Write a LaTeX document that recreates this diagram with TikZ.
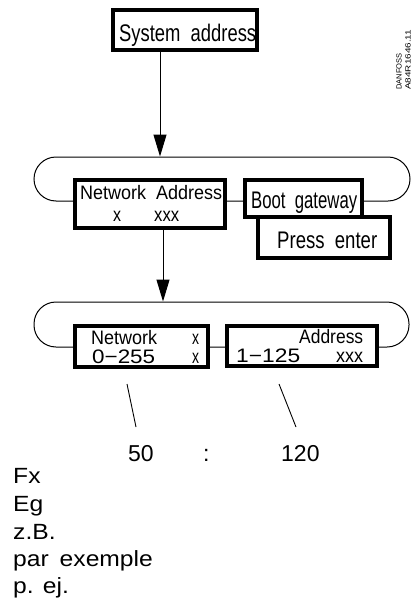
\documentclass[tikz,border=0pt]{standalone}
\usepackage{fontspec}
\usepackage{graphicx}
\setmainfont{Liberation Sans}
\usetikzlibrary{arrows.meta}
\newcommand\fitx[2]{\resizebox{#1}{\height}{#2}}
\newcommand\widen[1]{\scalebox{1.12}[1]{#1}}
\begin{document}
\begin{tikzpicture}[x=1pt,y=-1pt,
  box/.style={draw,line width=3.3pt,fill=white,inner sep=0pt,rectangle},
  loopbox/.style={draw,line width=1pt,rounded corners=22pt,inner sep=0pt,rectangle},
  txt/.style={inner sep=0pt,anchor=base west},
  big/.style={font=\fontsize{24}{24}\selectfont},
  mid/.style={font=\fontsize{19.5}{19.5}\selectfont},
  lst/.style={font=\fontsize{22}{22}\selectfont},
  conn/.style={line width=0.9pt},
  arr/.style={line width=1pt,-{Triangle[width=13pt,length=22pt]}},
  ]
\useasboundingbox (0,0) rectangle (411,605);
% loops
\node[loopbox,minimum width=376pt,minimum height=44pt] (l1) at (222,179) {};
\node[loopbox,minimum width=375pt,minimum height=45pt] (l2) at (221.5,324.5) {};
% boxes
\node[box,minimum width=144pt,minimum height=40pt] (sys) at (185,30) {};
\node[box,minimum width=150pt,minimum height=48pt] (na) at (150,204) {};
\node[box,minimum width=117pt,minimum height=37pt] (bg) at (303.5,198.5) {};
\node[box,minimum width=132pt,minimum height=41pt] (pe) at (324,237.5) {};
\node[box,minimum width=133pt,minimum height=41pt] (nw) at (141.5,346.5) {};
\node[box,minimum width=150pt,minimum height=40pt] (ad) at (302,346) {};
% box texts
\node[txt,big] (tsys) at (119,41) {\fitx{137pt}{System\ \ address}};
\node[txt,mid] (tna1) at (80,199) {\fitx{142pt}{Network\ \ Address}};
\node[txt,mid] (tna2) at (113,221) {\fitx{8pt}{x}};
\node[txt,mid] (tna3) at (154,221) {\fitx{25pt}{xxx}};
\node[txt,big] (tbg) at (251,208) {\fitx{106pt}{Boot\ \ gateway}};
\node[txt,big] (tpe) at (277,248) {\fitx{100pt}{Press\ \ enter}};
\node[txt,mid] (tnw1) at (91,344) {\fitx{66pt}{Network}};
\node[txt,mid] (tnw2) at (192,344) {\fitx{7pt}{x}};
\node[txt,mid] (tnw3) at (92,363) {\fitx{63pt}{0−255}};
\node[txt,mid] (tnw4) at (192,363) {\fitx{7pt}{x}};
\node[txt,mid] (tad1) at (299,343) {\fitx{64pt}{Address}};
\node[txt,mid] (tad2) at (236,362) {\fitx{64pt}{1−125}};
\node[txt,mid] (tad3) at (336,362) {\fitx{27pt}{xxx}};
% arrows
\coordinate (a1) at (160,0);
\draw[arr] (sys.south -| a1) -- (l1.north -| a1);
\coordinate (a2) at (163,0);
\draw[arr] (na.south -| a2) -- (l2.north -| a2);
% diagonal pointers
\coordinate (d1a) at (127,384);
\coordinate (d1b) at (136,427);
\coordinate (d2a) at (279,384);
\coordinate (d2b) at (296,427);
\draw[conn] (d1a) -- (d1b);
\draw[conn] (d2a) -- (d2b);
% values
\node[txt] (v50) at (128,461) {\fontsize{23}{23}\selectfont 50};
\node[txt] (vcol) at (203,461) {\fontsize{23}{23}\selectfont :};
\node[txt] (v120) at (281,461) {\fontsize{23}{23}\selectfont 120};
% list
\node[txt,lst] (fx) at (13,483) {\widen{Fx}};
\node[txt,lst] (eg) at (13,511) {\widen{Eg}};
\node[txt,lst] (zb) at (13,539) {\widen{z.B.}};
\node[txt,lst] (pe2) at (13,566) {\widen{par\ \,exemple}};
\node[txt,lst] (pej) at (13,593) {\widen{p. ej.}};
% code
\node[rotate=90,anchor=south west,align=left,inner sep=0pt,font=\fontsize{7.5}{9}\selectfont] (dan) at (411,90) {DANFOSS\\\fitx{60pt}{A84R1646.11}};
\end{tikzpicture}
\end{document}
